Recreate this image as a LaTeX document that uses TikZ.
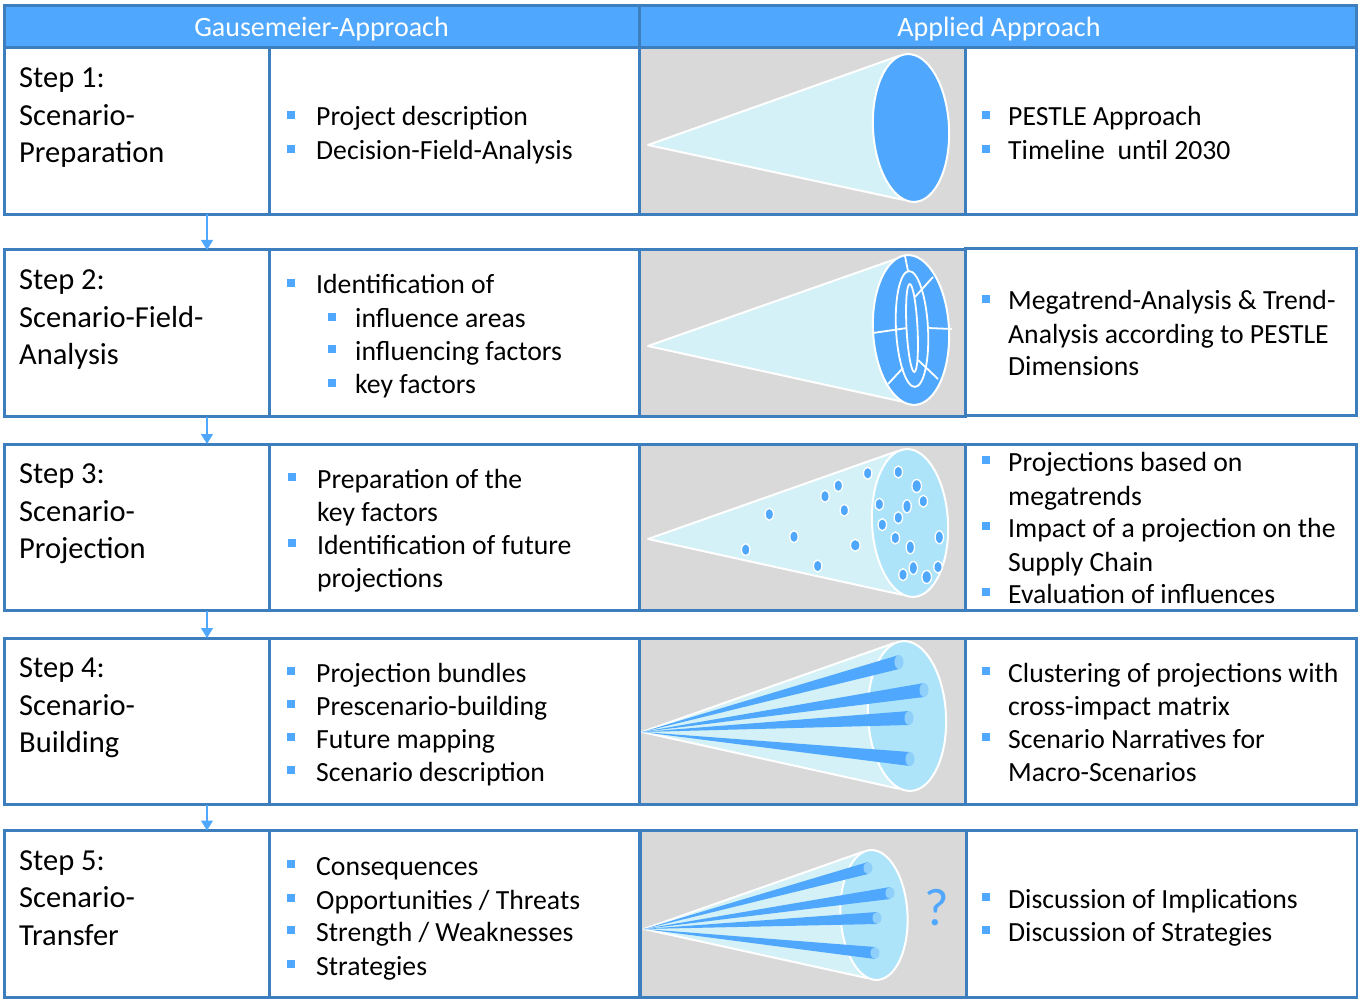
\documentclass[tikz,border=0pt]{standalone}
\usepackage{fontspec}
\setmainfont{Carlito}
\usepackage{tikz}
\usetikzlibrary{arrows.meta,positioning}
\definecolor{framecol}{HTML}{3D7EBE}
\definecolor{headcol}{HTML}{4FA8FD}
\definecolor{graycol}{HTML}{D9D9D9}
\definecolor{conecol}{HTML}{D3F1F6}
\definecolor{mouthcol}{HTML}{AEE4F9}
\definecolor{capcol}{HTML}{8FD0FB}
\tikzstyle{cell} = [rectangle,draw=framecol,line width=3pt,fill=white,
  inner sep=0pt,outer sep=0pt,minimum height=166.5pt]
\tikzstyle{headbox} = [cell,fill=headcol,text=white,minimum height=42pt,
  text height=21pt,text depth=2pt,font=\fontsize{28}{32}\selectfont]
\tikzstyle{stepbox} = [cell,minimum width=265pt,anchor=north west]
\tikzstyle{taskbox} = [cell,minimum width=370pt]
\tikzstyle{conebox} = [cell,minimum width=326pt,fill=graycol]
\tikzstyle{notebox} = [cell,minimum width=391pt]
\tikzstyle{steplabel} = [anchor=north west,inner sep=0pt,align=left,
  font=\fontsize{30.5}{37.5}\selectfont,xshift=15pt,yshift=-20pt]
\tikzstyle{item} = [anchor=base west,inner sep=0pt,yshift=-1pt,font=\fontsize{27.7}{30}\selectfont]
\tikzstyle{line} = [draw=headcol,line width=1.3pt,-{Triangle[length=10pt,width=12pt]}]
\tikzstyle{conefill} = [fill=conecol,draw=white,line width=2pt,line join=round]
\tikzstyle{mouthfill} = [fill=mouthcol,draw=white,line width=2pt]
\tikzstyle{spokeline} = [draw=white,line width=1.8pt]
\tikzstyle{spot} = [fill=headcol,draw=white,line width=1.3pt]
\newcommand{\itemmark}[1][21pt]{\llap{\textcolor{headcol}{\raisebox{7pt}{\rule{8pt}{8pt}}}\hspace{#1}}}
\newcommand{\conebody}[6]{\draw [conefill] (#1,#2) -- ({#3-.34*#5},{#4-.97*#6}) -- ({#3-.21*#5},{#4+.97*#6}) -- cycle;}
\newcommand{\beamline}[5]{\fill [headcol] (#1,#2) -- (#3,{#4-#5}) -- (#3,{#4+#5}) -- cycle;
  \fill [capcol] (#3,#4) ellipse [x radius=4.5, y radius=#5];}

\begin{document}
\begin{tikzpicture}[x=1pt, y=-1pt]
\useasboundingbox (0,0) rectangle (1358,1000);

\node [headbox, minimum width=635pt, anchor=north west] (head_left) at (4,6) {Gausemeier-Approach};
\node [headbox, minimum width=717pt, right=0pt of head_left] (head_right) {\hspace{3pt}Applied Approach};

\node [stepbox] (step_one) at (4,48) {};
\node [taskbox, right=0pt of step_one] (tasks_one) {};
\node [conebox, right=0pt of tasks_one] (cone_one) {};
\node [notebox, right=0pt of cone_one] (notes_one) {};

\node [stepbox] (step_two) at (4,250) {};
\node [taskbox, right=0pt of step_two] (tasks_two) {};
\node [conebox, right=0pt of tasks_two] (cone_two) {};
\node [notebox, right=0pt of cone_two, yshift=1pt] (notes_two) {};

\node [stepbox] (step_three) at (4,444) {};
\node [taskbox, right=0pt of step_three] (tasks_three) {};
\node [conebox, right=0pt of tasks_three] (cone_three) {};
\node [notebox, right=0pt of cone_three] (notes_three) {};

\node [stepbox] (step_four) at (4,638) {};
\node [taskbox, right=0pt of step_four] (tasks_four) {};
\node [conebox, right=0pt of tasks_four] (cone_four) {};
\node [notebox, right=0pt of cone_four] (notes_four) {};

\node [stepbox] (step_five) at (4,830.5) {};
\node [taskbox, right=0pt of step_five] (tasks_five) {};
\node [conebox, right=0pt of tasks_five, xshift=1pt] (cone_five) {};
\node [notebox, right=0pt of cone_five] (notes_five) {};

\coordinate (drop_x) at (207,0);
\path [line] (step_one.south -| drop_x) -- (step_two.north -| drop_x);
\path [line] (step_two.south -| drop_x) -- (step_three.north -| drop_x);
\path [line] (step_three.south -| drop_x) -- (step_four.north -| drop_x);
\path [line] (step_four.south -| drop_x) -- (step_five.north -| drop_x);

\node [steplabel] (label_one) at (step_one.north west) {Step 1:\\Scenario-\\Preparation};
\node [steplabel] (label_two) at (step_two.north west) {Step 2:\\Scenario-Field-\\Analysis};
\node [steplabel] (label_three) at (step_three.north west) {Step 3:\\Scenario-\\Projection};
\node [steplabel] (label_four) at (step_four.north west) {Step 4:\\Scenario-\\Building};
\node [steplabel] (label_five) at (step_five.north west) {Step 5:\\Scenario-\\Transfer};

\node [item] (project_desc) at (316,125) {\itemmark Project description};
\node [item] (decision_field) at (316,159) {\itemmark Decision-Field-Analysis};

\node [item] (ident_of) at (316,293) {\itemmark Identification of};
\node [item] (influence_areas) at (355,327) {\itemmark[19pt]influence areas};
\node [item] (influence_factors) at (355,359) {\itemmark[19pt]influencing factors};
\node [item] (key_factors) at (355,393) {\itemmark[19pt]key factors};

\node [item] (prep_of) at (317,487) {\itemmark Preparation of the};
\node [item] (prep_keys) at (317,520) {key factors};
\node [item] (ident_future) at (317,553) {\itemmark Identification of future};
\node [item] (ident_proj) at (317,586) {projections};

\node [item] (proj_bundles) at (316,681) {\itemmark Projection bundles};
\node [item] (prescenario) at (316,714) {\itemmark Prescenario-building};
\node [item] (future_map) at (316,747) {\itemmark Future mapping};
\node [item] (scen_desc) at (316,780) {\itemmark Scenario description};

\node [item] (consequences) at (316,874) {\itemmark Consequences};
\node [item] (opportunities) at (316,908) {\itemmark Opportunities / Threats};
\node [item] (strength) at (316,940) {\itemmark Strength / Weaknesses};
\node [item] (strategies) at (316,974) {\itemmark Strategies};

\node [item] (pestle_appr) at (1008,125) {\itemmark[18pt]PESTLE Approach};
\node [item] (timeline) at (1008,159) {\itemmark[18pt]Timeline~ until 2030};

\node [item] (mega_a) at (1008,309) {\itemmark[18pt]Megatrend-Analysis \& Trend-};
\node [item] (mega_b) at (1008,343) {Analysis according to PESTLE};
\node [item] (mega_c) at (1008,375) {Dimensions};

\node [item] (proj_based) at (1008,470) {\itemmark[18pt]Projections based on};
\node [item] (proj_mega) at (1008,504) {megatrends};
\node [item] (impact_a) at (1008,536) {\itemmark[18pt]Impact of a projection on the};
\node [item] (impact_b) at (1008,570) {Supply Chain};
\node [item] (evaluation) at (1008,602) {\itemmark[18pt]Evaluation of influences};

\node [item] (cluster_a) at (1008,681) {\itemmark[18pt]Clustering of projections with};
\node [item] (cluster_b) at (1008,714) {cross-impact matrix};
\node [item] (narrative_a) at (1008,747) {\itemmark[18pt]Scenario Narratives for};
\node [item] (narrative_b) at (1008,780) {Macro-Scenarios};

\node [item] (disc_impl) at (1008,907) {\itemmark[18pt]Discussion of Implications};
\node [item] (disc_strat) at (1008,940) {\itemmark[18pt]Discussion of Strategies};

\conebody{648}{145}{911}{128}{38}{74}
\draw [mouthfill, fill=headcol, rotate around={3:(911,128)}] (911,128) ellipse [x radius=38, y radius=74];

\conebody{648}{346}{911}{330}{38}{74}
\draw [mouthfill, fill=headcol, rotate around={3:(911,330)}] (911,330) ellipse [x radius=38, y radius=75];
\draw [spokeline] (905,256) -- (908,271);
\draw [spokeline] (933,277) -- (915,297);
\draw [spokeline] (873,333) -- (907,328);
\draw [spokeline] (928,328) -- (952,329);
\draw [spokeline] (888,384) -- (903,368);
\draw [spokeline] (918,360) -- (938,379);
\draw [spokeline, rotate around={3:(912,329)}] (912,329) ellipse [x radius=16, y radius=58];
\draw [spokeline, rotate around={3:(912,328)}] (912,328) ellipse [x radius=5.5, y radius=44];

\conebody{648}{539}{910}{523}{38}{74}
\draw [mouthfill, rotate around={3:(910,523)}] (910,523) ellipse [x radius=38, y radius=74];
\draw [spot] (867.7,473.3) ellipse [x radius=4.2, y radius=6];
\draw [spot] (898.3,472) ellipse [x radius=4.2, y radius=6];
\draw [spot] (916.7,486) ellipse [x radius=4.8, y radius=6.5];
\draw [spot] (923.3,501.3) ellipse [x radius=4.2, y radius=6];
\draw [spot] (838.3,485.7) ellipse [x radius=4.2, y radius=6];
\draw [spot] (825,496.3) ellipse [x radius=4.2, y radius=6];
\draw [spot] (879.3,504.3) ellipse [x radius=4.2, y radius=6];
\draw [spot] (907,506.3) ellipse [x radius=4.2, y radius=6.5];
\draw [spot] (844.3,510.3) ellipse [x radius=4.2, y radius=6];
\draw [spot] (769.3,514.3) ellipse [x radius=4.2, y radius=6];
\draw [spot] (898.3,517.7) ellipse [x radius=4.2, y radius=6];
\draw [spot] (882.3,524.7) ellipse [x radius=4.2, y radius=6];
\draw [spot] (794,536.7) ellipse [x radius=4.2, y radius=6];
\draw [spot] (895.3,538) ellipse [x radius=4.2, y radius=6];
\draw [spot] (939.3,537.3) ellipse [x radius=4.2, y radius=6.5];
\draw [spot] (855.3,545.3) ellipse [x radius=4.8, y radius=6];
\draw [spot] (910.3,547.3) ellipse [x radius=4.2, y radius=6.5];
\draw [spot] (745.7,549.7) ellipse [x radius=4.2, y radius=6];
\draw [spot] (817.7,566) ellipse [x radius=4.2, y radius=6];
\draw [spot] (938,567) ellipse [x radius=4.2, y radius=6];
\draw [spot] (913.3,568) ellipse [x radius=4.2, y radius=6.5];
\draw [spot] (903,574.7) ellipse [x radius=4.2, y radius=6];
\draw [spot] (926.7,577) ellipse [x radius=4.8, y radius=6.5];

\conebody{642}{732}{907}{716}{39}{75}
\draw [mouthfill, rotate around={3:(907,716)}] (907,716) ellipse [x radius=39, y radius=75];
\beamline{642}{732}{899}{662}{7}
\beamline{642}{732}{924}{690}{7}
\beamline{642}{732}{909}{718}{7}
\beamline{642}{732}{910}{759}{7}

\conebody{644}{929}{874}{915}{33.5}{65}
\draw [mouthfill, rotate around={3:(874,915)}] (874,915) ellipse [x radius=33.5, y radius=65];
\beamline{644}{929}{868}{868}{6}
\beamline{644}{929}{890}{893}{6}
\beamline{644}{929}{877}{918}{6}
\beamline{644}{929}{875}{953}{6}

\node [text=headcol, inner sep=0pt, font=\fontsize{53}{53}\selectfont] (unknown_mark) at (937,908) {?};

\end{tikzpicture}
\end{document}
